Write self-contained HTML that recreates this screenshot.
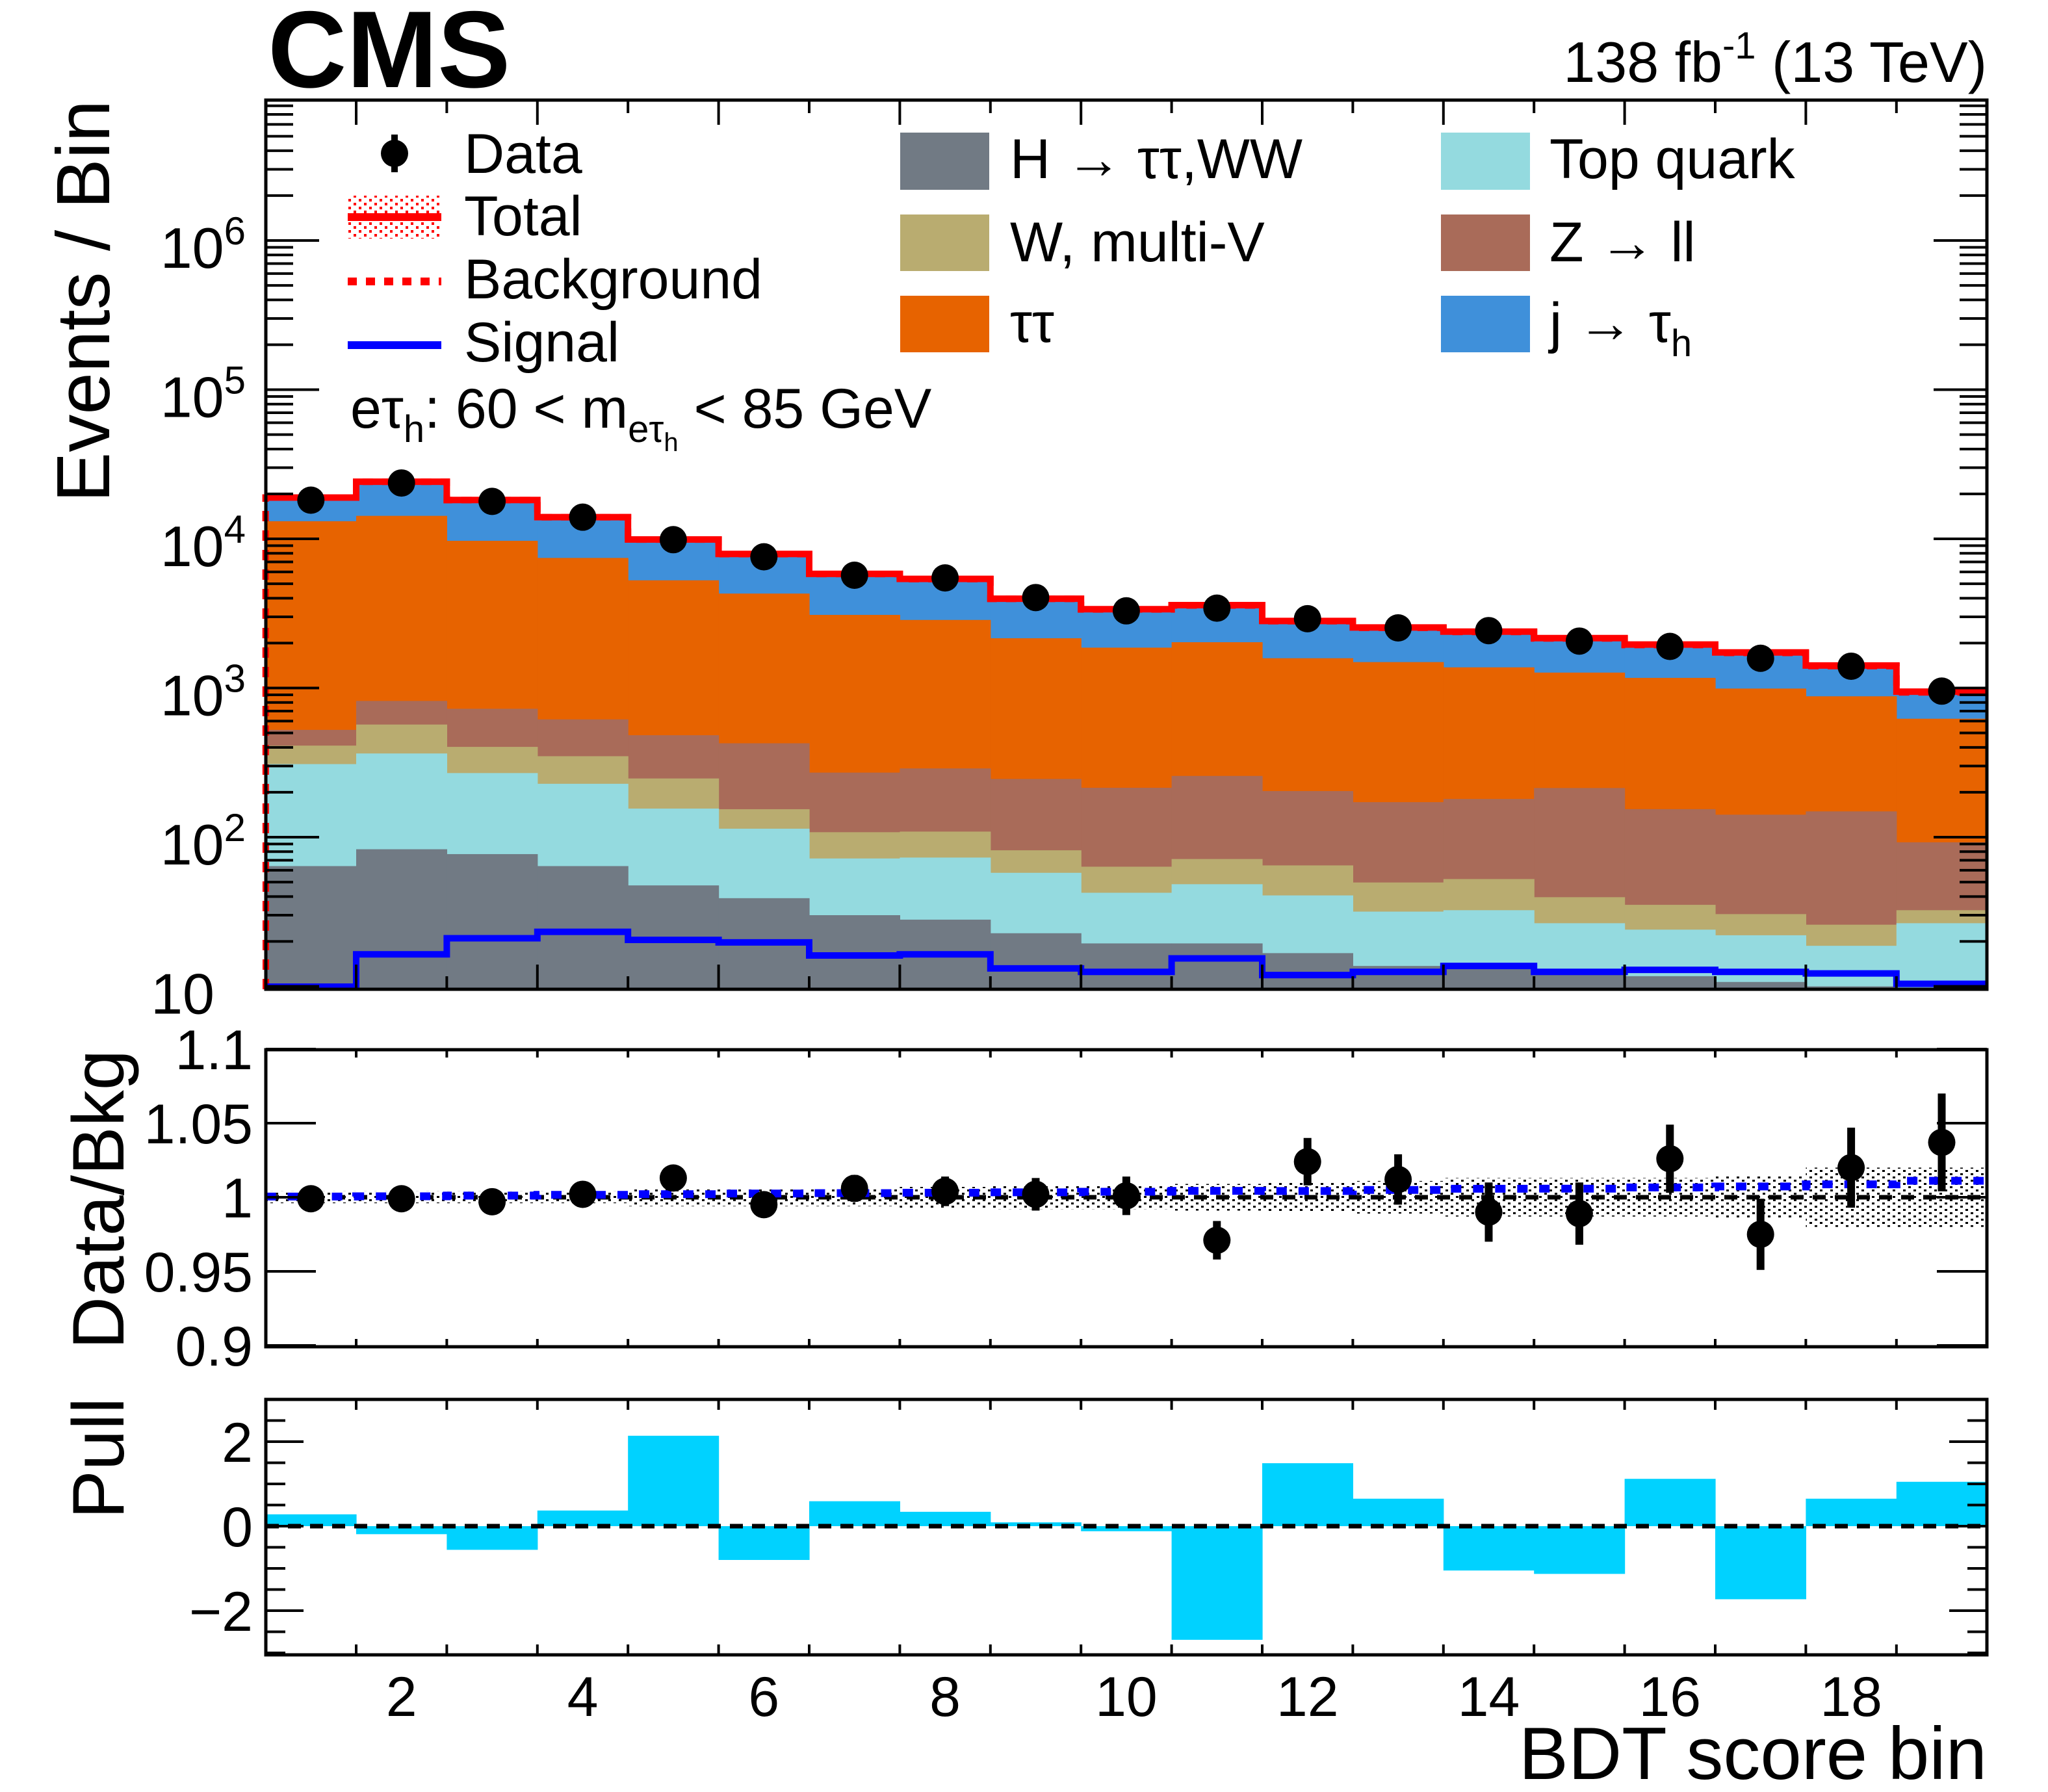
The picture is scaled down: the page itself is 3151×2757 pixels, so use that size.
<!DOCTYPE html>
<html><head><meta charset="utf-8"><style>
html,body{margin:0;padding:0;background:#fff;}
svg{display:block;font-family:"Liberation Sans",Arial,sans-serif;}
</style></head><body>
<svg id="chart" xmlns="http://www.w3.org/2000/svg" width="3151" height="2757" viewBox="0 0 3151 2757">
<defs>
<pattern id="dots" width="16" height="10" patternUnits="userSpaceOnUse"><rect x="0" y="0" width="4" height="3" fill="#000"/><rect x="8" y="5" width="4" height="3" fill="#000"/></pattern>
<pattern id="reddots" width="16" height="12" patternUnits="userSpaceOnUse"><rect x="0" y="0" width="4" height="4" fill="#f00"/><rect x="8" y="6" width="4" height="4" fill="#f00"/></pattern>
</defs>
<g id="main-marks"></g>
<g id="ratio-marks"></g>
<g id="pull-marks"></g>
<g id="axes"></g>

<text x="412" y="134" font-size="168" font-weight="bold">CMS</text>
<text x="3057" y="126" font-size="88" text-anchor="end">138 fb<tspan font-size="58" dy="-36">-1</tspan><tspan dy="36"> (13 TeV)</tspan></text>
<text transform="translate(168,154) rotate(-90)" font-size="116" text-anchor="end">Events / Bin</text>
<text transform="translate(190,1615) rotate(-90)" font-size="112" text-anchor="end">Data/Bkg</text>
<text transform="translate(190,2150) rotate(-90)" font-size="112" text-anchor="end">Pull</text>
<text x="3057" y="2737" font-size="114" text-anchor="end">BDT score bin</text>

<g>
  <g>
    <line x1="607" y1="207" x2="607" y2="265" stroke="#000" stroke-width="10"/>
    <circle cx="607" cy="236" r="21" fill="#000"/>
    <text x="714" y="266" font-size="86">Data</text>
  </g>
  <g>
    <rect x="535" y="301" width="144" height="66" fill="url(#reddots)"/>
    <line x1="535" y1="334" x2="679" y2="334" stroke="#f00" stroke-width="12"/>
    <text x="714" y="362" font-size="86">Total</text>
  </g>
  <g>
    <line x1="535" y1="433" x2="679" y2="433" stroke="#f00" stroke-width="12" stroke-dasharray="14,14"/>
    <text x="714" y="459" font-size="86">Background</text>
  </g>
  <g>
    <line x1="535" y1="531" x2="679" y2="531" stroke="#00f" stroke-width="12"/>
    <text x="714" y="556" font-size="86">Signal</text>
  </g>
  <text x="539" y="658" font-size="86">eτ<tspan font-size="58" dy="22">h</tspan><tspan dy="-22">: 60 &lt; m</tspan><tspan font-size="58" dy="22">eτ</tspan><tspan font-size="40" dy="14">h</tspan><tspan dy="-36"> &lt; 85 GeV</tspan></text>

  <g><rect x="1385" y="204" width="137" height="88" fill="#717a84"/><text x="1554" y="274" font-size="86">H → ττ,WW</text></g>
  <g><rect x="1385" y="330" width="137" height="87" fill="#b9ac70"/><text x="1554" y="402" font-size="86">W, multi-V</text></g>
  <g><rect x="1385" y="455" width="137" height="87" fill="#e76300"/><text x="1554" y="526" font-size="86">ττ</text></g>
  <g><rect x="2217" y="204" width="137" height="88" fill="#94dadf"/><text x="2384" y="274" font-size="86">Top quark</text></g>
  <g><rect x="2217" y="330" width="137" height="87" fill="#a96b59"/><text x="2384" y="402" font-size="86">Z → ll</text></g>
  <g><rect x="2217" y="455" width="137" height="87" fill="#3f90da"/><text x="2384" y="526" font-size="86">j → τ<tspan font-size="58" dy="22">h</tspan></text></g>
</g>
</svg>
<script>
const bins = [1,2,3,4,5,6,7,8,9,10,11,12,13,14,15,16,17,18,19];
const hWW = [64,83,77,64,47.5,39,30,28,22.7,19.4,19.4,16.7,13.7,13.4,12.3,11.7,10.7,10,9.3];
const topQuark = [245,281,192,164,108,75,42,45,35,23,29,24,18,19,14.2,12.3,11.3,8.7,17.2];
const wMultiV = [102,205,134,121,92,40,36,36,24,21,23,24,18,20,13.1,11.2,8.5,7.2,5.9];
const zll = [113,250,323,267,235,272,163,180,164,151,186,139,122,128,174,119,111,123,60];
const tautau = [12600,13440,8970,6830,4790,3870,2820,2570,1910,1650,1770,1380,1320,1195,1055,1015,850,731,530];
const jetFakes = [5780,9870,8500,6510,4610,3600,2720,2510,1800,1500,1550,1220,1040,1000,880,773,727,523,312];
const signal = [9.7,16.4,21,23.2,20.5,19.7,16.1,16.4,13.2,12.5,15.4,11.9,12.5,13.7,12.5,12.9,12.5,12.2,10.4];
const dataCounts = [18170,23680,17830,13970,9870,7580,5700,5470,4040,3290,3430,2915,2530,2425,2063,1900,1583,1400,953];
const ratioVals = [0.999,0.999,0.997,1.002,1.013,0.995,1.006,1.004,1.002,1.001,0.971,1.024,1.012,0.990,0.989,1.026,0.975,1.020,1.037];
const ratioErrs = [0.003,0.003,0.003,0.004,0.006,0.007,0.009,0.010,0.011,0.013,0.013,0.016,0.017,0.020,0.021,0.023,0.024,0.027,0.033];
const bandErrs = [0.004,0.004,0.004,0.004,0.006,0.006,0.006,0.007,0.008,0.008,0.009,0.010,0.011,0.013,0.013,0.013,0.014,0.020,0.020];
const pulls = [0.28,-0.19,-0.56,0.37,2.14,-0.80,0.59,0.34,0.09,-0.12,-2.69,1.49,0.65,-1.05,-1.13,1.12,-1.73,0.65,1.05];
const xTickLabels = [2,4,6,8,10,12,14,16,18];
const mainTickExps = [1,2,3,4,5,6];
const ratioTickLabels = ["1.1","1.05","1","0.95","0.9"];
const ratioTickVals = [1.1,1.05,1.0,0.95,0.9];
const pullTickVals = [2,0,-2];
const pullTickLabels = ["2","0","\u22122"];

const NS = "http://www.w3.org/2000/svg";
const L = 409, R = 3057;
const MT = 154, MB = 1522, RT = 1615, RB = 2072, PT = 2153, PB = 2546;
function X(b){ return 408.6 + (b - 0.5) * 139.4; }
function YL(v){ let y = 829 - (Math.log10(Math.max(v,1e-3)) - 4) * 229.5; return Math.min(Math.max(y, MT), MB); }
function YR(r){ return 1842 - (r - 1) / 0.05 * 114; }
function YP(p){ return 2348 - p * 65; }
function mk(tag, attrs, parent){ const e = document.createElementNS(NS, tag); for (const k in attrs) e.setAttribute(k, attrs[k]); parent.appendChild(e); return e; }

const gm = document.getElementById('main-marks');
const gr = document.getElementById('ratio-marks');
const gp = document.getElementById('pull-marks');
const ga = document.getElementById('axes');

const stackDefs = [[hWW,'#717a84','h-ww'],[topQuark,'#94dadf','top-quark'],[wMultiV,'#b9ac70','w-multiv'],[zll,'#a96b59','z-ll'],[tautau,'#e76300','tautau'],[jetFakes,'#3f90da','jet-fakes']];
const bkg = bins.map(() => 0);
const tops = stackDefs.map(() => bins.map(() => 0));
stackDefs.forEach((sd, s) => { bins.forEach((b,i) => { bkg[i] += sd[0][i]; tops[s][i] = bkg[i]; }); });
for (let s = stackDefs.length - 1; s >= 0; s--) {
  bins.forEach((b,i) => {
    const y = YL(tops[s][i]);
    const r = mk('rect', {x: X(b-0.5), y: y, width: 139.4 + 0.6, height: MB - y, fill: stackDefs[s][1]}, gm);
    
    
  });
}
function stepPath(vals, yf){
  let d = '';
  bins.forEach((b,i) => { const y = yf(vals[i]); d += (i === 0 ? 'M' : 'L') + X(b-0.5) + ',' + y + 'L' + X(b+0.5) + ',' + y; });
  return d;
}
const total = bins.map((b,i) => bkg[i] + signal[i]);
const bkgLine = mk('path', {d: 'M' + L + ',' + MB + 'L' + stepPath(bkg, YL).slice(1), fill: 'none', stroke: '#f00', 'stroke-width': 10, 'stroke-dasharray': '16,14'}, gm);


const totLine = mk('path', {d: stepPath(total, YL), fill: 'none', stroke: '#f00', 'stroke-width': 10}, gm);


const sigLine = mk('path', {d: stepPath(signal, v => Math.min(YL(v), MB - 4)), fill: 'none', stroke: '#00f', 'stroke-width': 10}, gm);


bins.forEach((b,i) => {
  const e = Math.sqrt(dataCounts[i]);
  const l = mk('line', {x1: X(b), x2: X(b), y1: YL(dataCounts[i] + e), y2: YL(dataCounts[i] - e), stroke: '#000', 'stroke-width': 10}, gm);
  
  
  const c = mk('circle', {cx: X(b), cy: YL(dataCounts[i]), r: 21, fill: '#000'}, gm);
  
  
});

bins.forEach((b,i) => {
  const r = mk('rect', {x: X(b-0.5), y: YR(1 + bandErrs[i]), width: 139.4, height: YR(1 - bandErrs[i]) - YR(1 + bandErrs[i]), fill: 'url(#dots)'}, gr);
  
  
});
const one = mk('line', {x1: L, x2: R, y1: YR(1), y2: YR(1), stroke: '#000', 'stroke-width': 7, 'stroke-dasharray': '20,14'}, gr);


const sbRatio = bins.map((b,i) => total[i] / bkg[i]);
const sbl = mk('path', {d: stepPath(sbRatio, YR), fill: 'none', stroke: '#00f', 'stroke-width': 12, 'stroke-dasharray': '16,18'}, gr);


bins.forEach((b,i) => {
  const l = mk('line', {x1: X(b), x2: X(b), y1: YR(ratioVals[i] + ratioErrs[i]), y2: YR(ratioVals[i] - ratioErrs[i]), stroke: '#000', 'stroke-width': 12}, gr);
  
  
  const c = mk('circle', {cx: X(b), cy: YR(ratioVals[i]), r: 21, fill: '#000'}, gr);
  
  
});

bins.forEach((b,i) => {
  const y0 = YP(0), y1 = YP(pulls[i]);
  const r = mk('rect', {x: X(b-0.5), y: Math.min(y0,y1), width: 139.4 + 0.6, height: Math.abs(y1 - y0), fill: '#00d2ff'}, gp);
  
  
});
const pz = mk('line', {x1: L, x2: R, y1: YP(0), y2: YP(0), stroke: '#000', 'stroke-width': 7, 'stroke-dasharray': '20,14'}, gp);



[[MT,MB,'main-frame'],[RT,RB,'ratio-frame'],[PT,PB,'pull-frame']].forEach(f => {
  const r = mk('rect', {x: L, y: f[0], width: R - L, height: f[1] - f[0], fill: 'none', stroke: '#000', 'stroke-width': 5}, ga);
  
  
});
for (let k = 1; k <= 18; k++) {
  const xx = X(k + 0.5);
  const long = (k % 2 === 1);
  const lm = long ? 38 : 20;
  mk('line', {x1: xx, x2: xx, y1: MB, y2: MB - lm, stroke: '#000', 'stroke-width': 4}, ga);
  mk('line', {x1: xx, x2: xx, y1: MT, y2: MT + lm, stroke: '#000', 'stroke-width': 4}, ga);
  mk('line', {x1: xx, x2: xx, y1: RB, y2: RB - 12, stroke: '#000', 'stroke-width': 4}, ga);
  mk('line', {x1: xx, x2: xx, y1: RT, y2: RT + 12, stroke: '#000', 'stroke-width': 4}, ga);
  mk('line', {x1: xx, x2: xx, y1: PB, y2: PB - 16, stroke: '#000', 'stroke-width': 4}, ga);
  mk('line', {x1: xx, x2: xx, y1: PT, y2: PT + 16, stroke: '#000', 'stroke-width': 4}, ga);
}
xTickLabels.forEach(v => {
  const t = mk('text', {x: X(v), y: 2640, 'font-size': 86, 'text-anchor': 'middle'}, ga);
  t.textContent = v;
  
  
});
for (let d = 0; d <= 6; d++) {
  for (let m = 1; m <= 9; m++) {
    const v = m * Math.pow(10, d);
    const y = 829 - (Math.log10(v) - 4) * 229.5;
    if (y < MT || y > MB) continue;
    const len = (m === 1) ? 82 : 42;
    mk('line', {x1: L, x2: L + len, y1: y, y2: y, stroke: '#000', 'stroke-width': 4}, ga);
    mk('line', {x1: R, x2: R - len, y1: y, y2: y, stroke: '#000', 'stroke-width': 4}, ga);
  }
}
mainTickExps.forEach(e => {
  const y = YL(Math.pow(10, e));
  const t = mk('text', {x: 378, y: y + 42, 'font-size': 88, 'text-anchor': 'end'}, ga);
  
  
  if (e === 1) { t.textContent = '10'; t.setAttribute('x', 330); }
  else { t.appendChild(document.createTextNode('10')); const s = mk('tspan', {'font-size': 60, dy: -36}, t); s.textContent = e; }
});
ratioTickVals.forEach((v,i) => {
  const y = YR(v);
  mk('line', {x1: L, x2: L + 77, y1: y, y2: y, stroke: '#000', 'stroke-width': 4}, ga);
  mk('line', {x1: R, x2: R - 77, y1: y, y2: y, stroke: '#000', 'stroke-width': 4}, ga);
  const t = mk('text', {x: 389, y: y + 31, 'font-size': 86, 'text-anchor': 'end'}, ga);
  t.textContent = ratioTickLabels[i];
  
  
});
for (let p = -3; p <= 3; p += 0.5) {
  const y = YP(p);
  if (y < PT || y > PB) continue;
  const len = (Math.abs(p % 2) < 1e-9) ? 58 : 30;
  mk('line', {x1: L, x2: L + len, y1: y, y2: y, stroke: '#000', 'stroke-width': 4}, ga);
  mk('line', {x1: R, x2: R - len, y1: y, y2: y, stroke: '#000', 'stroke-width': 4}, ga);
}
pullTickVals.forEach((v,i) => {
  const t = mk('text', {x: 389, y: YP(v) + 31, 'font-size': 86, 'text-anchor': 'end'}, ga);
  t.textContent = pullTickLabels[i];
  
  
});
</script>
</body></html>
